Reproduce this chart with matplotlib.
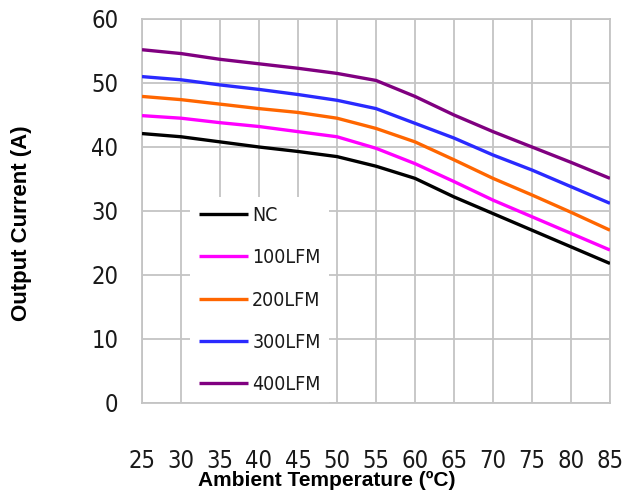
import matplotlib
matplotlib.use("Agg")
import matplotlib.pyplot as plt
from matplotlib import font_manager

temps = [25, 30, 35, 40, 45, 50, 55, 60, 65, 70, 75, 80, 85]
nc      = [42.1, 41.6, 40.8, 40.0, 39.3, 38.5, 37.0, 35.1, 32.2, 29.6, 27.0, 24.4, 21.8]
lfm100  = [44.9, 44.5, 43.8, 43.2, 42.4, 41.6, 39.8, 37.4, 34.6, 31.7, 29.1, 26.5, 23.9]
lfm200  = [47.9, 47.4, 46.7, 46.0, 45.4, 44.5, 42.9, 40.8, 38.0, 35.1, 32.5, 29.8, 27.0]
lfm300  = [51.0, 50.5, 49.7, 49.0, 48.2, 47.3, 46.0, 43.7, 41.4, 38.75, 36.4, 33.8, 31.2]
lfm400  = [55.2, 54.6, 53.7, 53.0, 52.3, 51.5, 50.4, 47.9, 45.0, 42.4, 40.0, 37.6, 35.1]
series_labels = ["NC", "100LFM", "200LFM", "300LFM", "400LFM"]
series_colors = ["#000000", "#ff00ff", "#ff6600", "#2a2aff", "#800080"]
y_ticks = [0, 10, 20, 30, 40, 50, 60]

names = {f.name for f in font_manager.fontManager.ttflist}
bold_font = "Liberation Sans" if "Liberation Sans" in names else "DejaVu Sans"
cond = font_manager.FontProperties(family="DejaVu Sans", stretch="condensed")

fig = plt.figure(figsize=(6.24, 5.03), dpi=100)
ax = fig.add_axes([142/624, 1-403/503, 468/624, 384/503])

for vals, lab, col in zip([nc, lfm100, lfm200, lfm300, lfm400], series_labels, series_colors):
    ax.plot(temps, vals, color=col, lw=2.4, label=lab, solid_joinstyle="round",
            solid_capstyle="butt", zorder=3)

ax.set_xlim(25, 85)
ax.set_ylim(0, 60)
ax.set_xticks(temps)
ax.set_yticks(y_ticks)
ax.grid(True, color="#c4c4c4", lw=1.3, zorder=0)
ax.set_axisbelow(True)
for s in ax.spines.values():
    s.set_color("#c4c4c4")
    s.set_linewidth(1.3)
ax.tick_params(length=0)
ax.tick_params(axis="x", pad=33)
ax.tick_params(axis="y", pad=17)
for t in ax.get_xticklabels() + ax.get_yticklabels():
    t.set_fontproperties(cond)
    t.set_fontsize(17)
    t.set_color("#1a1a1a")

legprop = cond.copy()
legprop.set_size(14)
leg = ax.legend(loc="lower left", bbox_to_anchor=(48/468, 0.0), frameon=True,
                fancybox=False, framealpha=1, facecolor="white", edgecolor="white",
                prop=legprop, handlelength=2.55,
                handletextpad=0.2, labelspacing=1.2, borderpad=0.45, borderaxespad=0)
leg.get_frame().set_linewidth(0)
leg.set_zorder(2)
for t in leg.get_texts():
    t.set_color("#1a1a1a")

fig.text(327/624, 1-480/503, "Ambient Temperature (ºC)", ha="center", va="center",
         fontsize=15, fontweight="bold", family=bold_font)
fig.text(22/624, 1-223/503, "Output Current (A)", ha="center", va="center",
         rotation=90, fontsize=16, fontweight="bold", family=bold_font)

fig.savefig("out.png", dpi=100)
